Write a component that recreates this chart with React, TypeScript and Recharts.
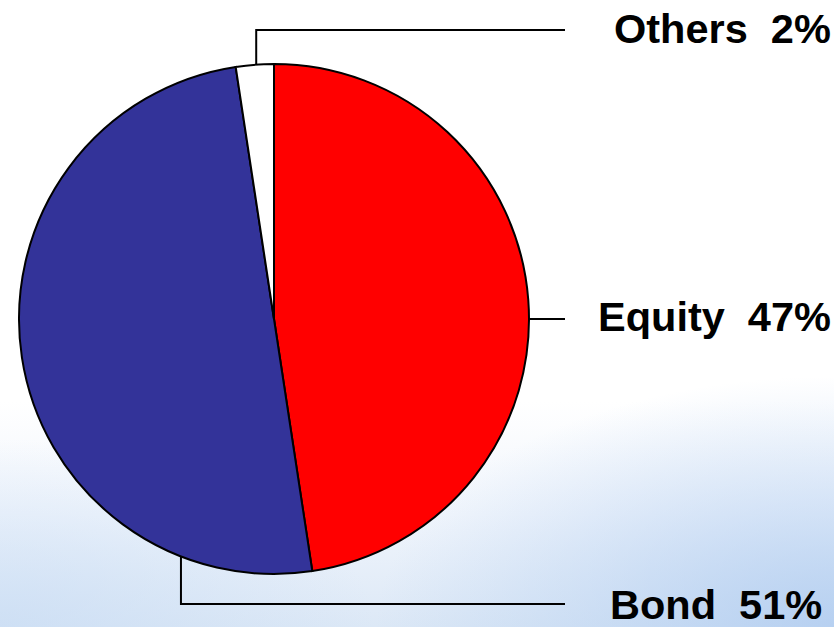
import { PieChart, Pie, Cell } from 'recharts'

// asset allocation (slice sizes as drawn, printed labels as shown)
const categories = ['Equity', 'Bond', 'Others']
const shares = [47.6, 50.0, 2.4]
const shareLabels = ['47%', '51%', '2%']
const colors = ['#FF0000', '#333399', '#FFFFFF']

const data = categories.map((name, i) => ({ name, value: shares[i], label: shareLabels[i] }))

// where each callout leaves the pie (deg clockwise from 12 o'clock) and where it bends
const callouts: Record<string, { angle: number; elbowDy: number | null; lineEndDx: number; textDx: number; textDy: number }> = {
  Equity: { angle: 90, elbowDy: null, lineEndDx: 291, textDx: 324, textDy: 12 },
  Bond: { angle: 201.4, elbowDy: 285, lineEndDx: 291, textDx: 336, textDy: 300 },
  Others: { angle: 356, elbowDy: -289, lineEndDx: 291, textDx: 340, textDy: -276 },
}

function renderCallout(props: any) {
  const { cx, cy, outerRadius, name, payload } = props
  const c = callouts[name]
  if (!c) return null
  const rad = (c.angle * Math.PI) / 180
  const ax = cx + outerRadius * Math.sin(rad)
  const ay = cy - outerRadius * Math.cos(rad)
  const pts =
    c.elbowDy === null
      ? `${ax},${ay} ${cx + c.lineEndDx},${ay}`
      : `${ax},${ay} ${ax},${cy + c.elbowDy} ${cx + c.lineEndDx},${cy + c.elbowDy}`
  return (
    <g key={name}>
      <polyline points={pts} fill="none" stroke="#000" strokeWidth={2} />
      <text
        x={cx + c.textDx}
        y={cy + c.textDy}
        fill="#000"
        fontFamily="'Liberation Sans', Arial, sans-serif"
        fontWeight="bold"
        fontSize={41.5}
        style={{ whiteSpace: 'pre' }}
      >
        {`${name}  ${payload.label}`}
      </text>
    </g>
  )
}

export default function App() {
  return (
    <div
      style={{
        position: 'absolute',
        left: 0,
        top: 0,
        width: 834,
        height: 627,
        overflow: 'hidden',
        background:
          'radial-gradient(ellipse 55% 40% at 100% 100%, rgba(176,204,240,0.85) 0%, rgba(176,204,240,0) 100%),' +
          'radial-gradient(ellipse 45% 30% at 0% 100%, rgba(200,220,244,0.7) 0%, rgba(200,220,244,0) 100%),' +
          'linear-gradient(to bottom, #ffffff 0%, #ffffff 64%, #f0f5fc 82%, #dce8f6 100%)',
      }}
    >
      <PieChart
        width={834}
        height={627}
        margin={{ top: 0, right: 0, bottom: 0, left: 0 }}
        style={{ position: 'absolute', left: 0, top: 0 }}
      >
        <Pie
          data={data}
          dataKey="value"
          nameKey="name"
          cx={274}
          cy={319}
          outerRadius={255}
          startAngle={90}
          endAngle={-270}
          stroke="#000"
          strokeWidth={2}
          label={renderCallout}
          labelLine={false}
          isAnimationActive={false}
        >
          {data.map((d, i) => (
            <Cell key={d.name} fill={colors[i]} />
          ))}
        </Pie>
      </PieChart>
    </div>
  )
}
